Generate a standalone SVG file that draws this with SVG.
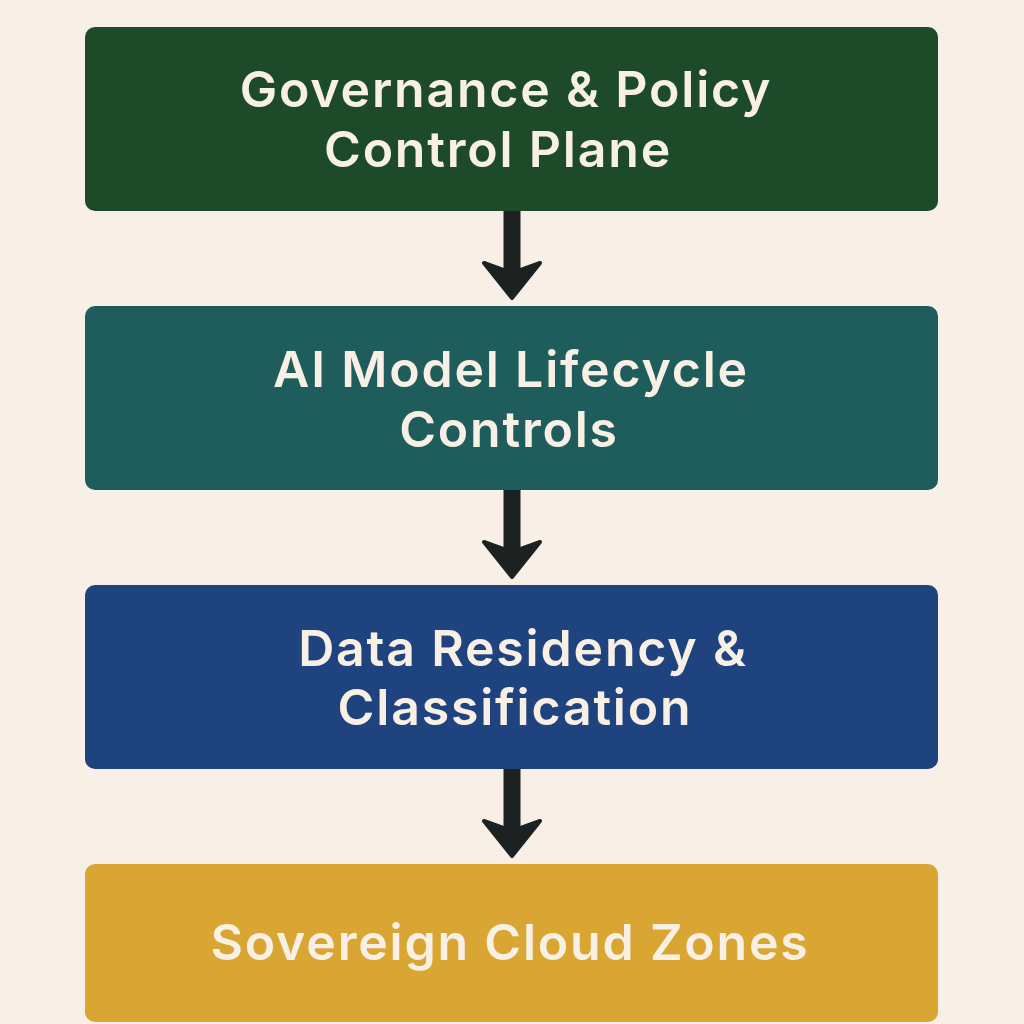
<svg xmlns="http://www.w3.org/2000/svg" width="1024" height="1024" viewBox="0 0 1024 1024">
<defs>
<style>
.box{stroke:none}
.lbl{font-family:Inter,"Liberation Sans",sans-serif;font-weight:600;font-size:50px;letter-spacing:1.8px;fill:#f8f0e4;text-anchor:middle}
.shaft{stroke:#1c2121;stroke-width:17;fill:none}
.head{fill:#1c2121;stroke:#1c2121;stroke-width:4;stroke-linejoin:round}
</style>
</defs>
<rect width="1024" height="1024" fill="#f8f0e6"/>
<g id="connectors">
<g id="arrow1"><line class="shaft" x1="512" y1="210" x2="512" y2="272"/><path class="head" d="M484,263 L506,271 L518,271 L540,263 L512,298 Z"/></g>
<g id="arrow2"><line class="shaft" x1="512" y1="489" x2="512" y2="551"/><path class="head" d="M484,542 L506,550 L518,550 L540,542 L512,577 Z"/></g>
<g id="arrow3"><line class="shaft" x1="512" y1="768" x2="512" y2="830"/><path class="head" d="M484,821 L506,829 L518,829 L540,821 L512,856 Z"/></g>
</g>
<g id="node1"><rect class="box" x="85" y="27" width="853" height="184" rx="10" fill="#1d4a28"/>
<text class="lbl" x="506" y="107">Governance &amp; Policy</text><text class="lbl" x="498" y="167">Control Plane</text></g>
<g id="node2"><rect class="box" x="85" y="306" width="853" height="184" rx="10" fill="#1e5d5c"/>
<text class="lbl" x="511" y="387">AI Model Lifecycle</text><text class="lbl" x="509" y="447">Controls</text></g>
<g id="node3"><rect class="box" x="85" y="585" width="853" height="184" rx="10" fill="#1e437e"/>
<text class="lbl" x="523" y="666">Data Residency &amp;</text><text class="lbl" x="515" y="725">Classification</text></g>
<g id="node4"><rect class="box" x="85" y="864" width="853" height="158" rx="10" fill="#d9a533"/>
<text class="lbl" x="510" y="960">Sovereign Cloud Zones</text></g>
</svg>
